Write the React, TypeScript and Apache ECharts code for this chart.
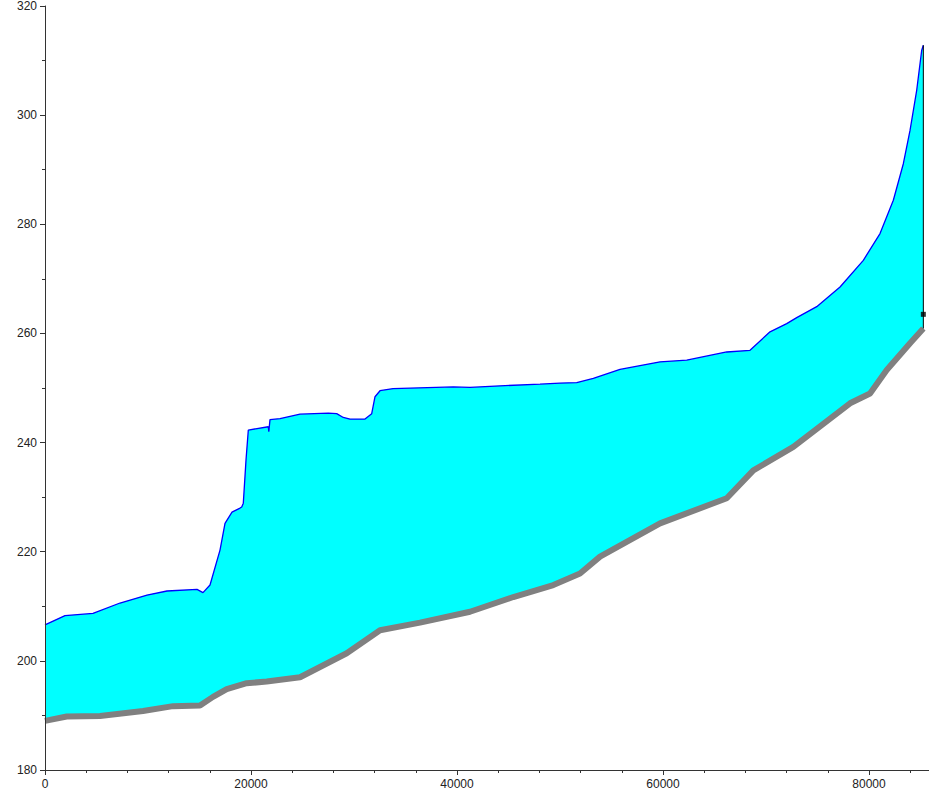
import React, { useEffect, useRef } from "react";
import * as echarts from "echarts";

// Water surface profile (station, elevation)
const waterStations = [
  0, 1942, 4660, 7282, 9903, 11845, 14758, 15340, 16020, 16991, 17476, 18156,
  18933, 19098, 19253, 19515, 19739, 21680, 21729, 21845, 22816, 24758, 27506,
  28321, 28962, 29612, 31069, 31719, 32040, 32525, 33787, 39642, 41263, 44176,
  48060, 50001, 51623, 53235, 55827, 59711, 62303, 66187, 68448, 70390, 72011,
  72982, 74924, 77187, 79449, 81070, 82362, 83333, 83983, 84634, 85119, 85275,
];
const waterElev = [
  206.6, 208.3, 208.7, 210.6, 212.05, 212.8, 213.1, 212.5, 213.9, 220.3, 225.2,
  227.25, 228.0, 228.2, 228.9, 236.8, 242.3, 242.9, 242.0, 244.2, 244.4, 245.2,
  245.4, 245.3, 244.6, 244.3, 244.3, 245.3, 248.4, 249.5, 249.9, 250.2, 250.1,
  250.4, 250.7, 250.9, 251.0, 251.75, 253.4, 254.8, 255.1, 256.6, 256.9, 260.3,
  261.8, 262.9, 264.9, 268.5, 273.4, 278.3, 284.4, 291.1, 297.2, 304.6, 311.9,
  312.8,
];

// Channel bed profile (station, elevation)
const bedStations = [
  0, 2107, 5340, 9515, 12428, 15049, 16311, 17642, 19583, 21525, 24758, 29292,
  32525, 36409, 41263, 45467, 49351, 51943, 53885, 59711, 66187, 68770, 72653,
  78158, 80100, 81721, 83983, 85275,
];
const bedElev = [
  189.0, 189.8, 189.9, 190.8, 191.7, 191.8, 193.4, 194.8, 195.9, 196.2, 197.0,
  201.4, 205.6, 207.0, 209.0, 211.7, 213.9, 216.0, 219.1, 225.2, 229.8, 234.9,
  239.2, 247.2, 249.0, 253.3, 258.2, 260.9,
];

// Marker at the upstream end
const endMarkerElev = 263.5;

// Axis ticks
const yTickLabels = [180, 200, 220, 240, 260, 280, 300, 320];
const xTickLabels = [0, 20000, 40000, 60000, 80000];

export default function App() {
  const ref = useRef<HTMLDivElement>(null);

  useEffect(() => {
    if (!ref.current) return;
    const chart = echarts.init(ref.current, null, { renderer: "svg" });

    const water = waterStations.map((s, i) => [s, waterElev[i]]);
    const bed = bedStations.map((s, i) => [s, bedElev[i]]);
    const endStation = waterStations[waterStations.length - 1];
    const endLine = [
      [endStation, bedElev[bedElev.length - 1]],
      [endStation, waterElev[waterElev.length - 1]],
    ];

    const labelFont = {
      fontFamily: "'Liberation Sans', Arial, sans-serif",
      fontSize: 12,
      color: "#222",
    };

    chart.setOption({
      animation: false,
      backgroundColor: "#ffffff",
      grid: { left: 45, top: 5.7, height: 764.3, width: 1030 },
      xAxis: {
        type: "value",
        min: 0,
        max: 100000,
        interval: 20000,
        z: 10,
        splitLine: { show: false },
        axisLine: { show: true, lineStyle: { color: "#333", width: 1 } },
        axisTick: { show: true, length: 5, lineStyle: { color: "#333" } },
        minorTick: { show: true, splitNumber: 5, length: 3, lineStyle: { color: "#333" } },
        axisLabel: {
          ...labelFont,
          margin: 8,
          showMaxLabel: false,
          formatter: (v: number) => (xTickLabels.includes(v) ? String(v) : ""),
        },
      },
      yAxis: {
        type: "value",
        min: yTickLabels[0],
        max: yTickLabels[yTickLabels.length - 1],
        interval: 20,
        z: 10,
        splitLine: { show: false },
        axisLine: { show: true, lineStyle: { color: "#333", width: 1 } },
        axisTick: { show: true, length: 5, lineStyle: { color: "#333" } },
        minorTick: { show: true, splitNumber: 2, length: 3, lineStyle: { color: "#333" } },
        axisLabel: { ...labelFont, margin: 8 },
      },
      series: [
        {
          name: "Flow Area",
          type: "custom",
          data: [0],
          z: 1,
          silent: true,
          renderItem: (_params: any, api: any) => {
            const pts: number[][] = [];
            for (const p of water) pts.push(api.coord(p));
            for (let i = bed.length - 1; i >= 0; i--) pts.push(api.coord(bed[i]));
            return {
              type: "polygon",
              shape: { points: pts },
              style: { fill: "#00ffff", stroke: null },
            };
          },
        },
        {
          name: "Water Surface",
          type: "line",
          data: water,
          showSymbol: false,
          symbol: "none",
          lineStyle: { color: "#0000ff", width: 1.3 },
          z: 2,
        },
        {
          name: "Ground",
          type: "line",
          data: bed,
          showSymbol: false,
          symbol: "none",
          lineStyle: { color: "#808080", width: 6 },
          z: 3,
        },
        {
          name: "End",
          type: "line",
          data: endLine,
          showSymbol: false,
          symbol: "none",
          lineStyle: { color: "#000000", width: 1 },
          z: 4,
        },
        {
          name: "Marker",
          type: "scatter",
          data: [[endStation, endMarkerElev]],
          symbol: "rect",
          symbolSize: 5,
          itemStyle: { color: "#000000" },
          z: 5,
        },
      ],
    });

    return () => chart.dispose();
  }, []);

  return (
    <div
      ref={ref}
      style={{ position: "fixed", left: 0, top: 0, width: 1080, height: 796 }}
    />
  );
}
